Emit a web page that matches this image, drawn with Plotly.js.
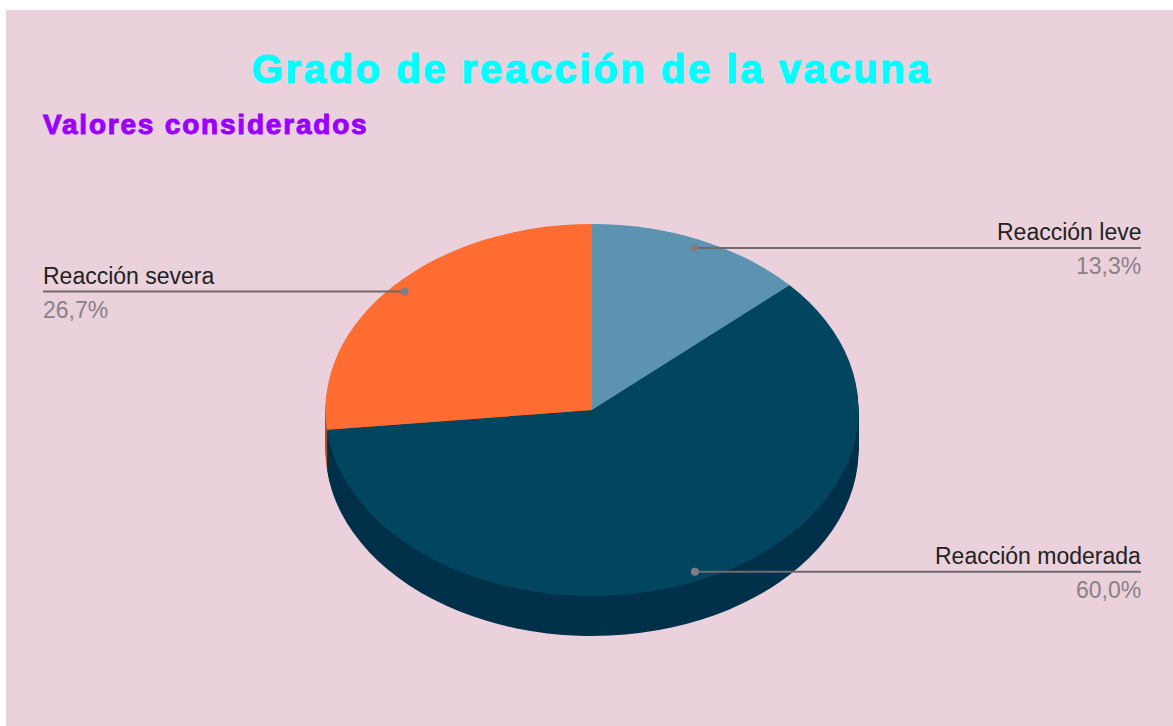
<!DOCTYPE html>
<html>
<head>
<meta charset="utf-8">
<script src="https://cdn.plot.ly/plotly-3.0.1.min.js"></script>
<style>
  html, body { margin: 0; padding: 0; background: #ffffff; }
  #chart { position: absolute; left: 6px; top: 10px; width: 1167px; height: 716px; }
</style>
</head>
<body>
<div id="chart"></div>
<script>
// ---- data ----
const categories = ["Reacción leve", "Reacción moderada", "Reacción severa"];
const percentValues = [13.3, 60.0, 26.7];
const topColors = ["#5b93b0", "#01455f", "#ff6d33"];
const sideColors = ["#3d6a80", "#00314a", "#b84b20"];
const chartTitle = "Grado de reacción de la vacuna";
const chartSubtitle = "Valores considerados";

// ---- geometry (pixels inside the plot div) ----
const W = 1167, H = 716;
const cx = 586, cy = 400;      // centre of top face
const A = 266.5, B = 186;      // ellipse half axes
const depth = 40;
const k = A / B;
const labelRight = 1135, labelLeft = 37;

function px(x) { return x / W; }
function py(y) { return 1 - y / H; }

function pieTrace(offset, colors) {
  return {
    type: "pie",
    labels: categories,
    values: percentValues,
    sort: false,
    direction: "clockwise",
    rotation: 0,
    textinfo: "none",
    hoverinfo: "none",
    showlegend: false,
    marker: { colors: colors, line: { width: 0 } },
    domain: {
      x: [px(cx - B), px(cx + B)],
      y: [py(cy + offset + B), py(cy + offset - B)]
    }
  };
}

const traces = [];
const steps = 20;
for (let i = steps; i >= 1; i--) {
  traces.push(pieTrace(depth * i / steps, sideColors));
}
traces.push(pieTrace(0, topColors));

// ---- labels & leader lines computed from the data ----
const total = percentValues.reduce((a, b) => a + b, 0);
const shapes = [];
const annotations = [];
let cum = 0;
percentValues.forEach((v, i) => {
  const mid = (cum + v / 2) / total;
  cum += v;
  const th = 2 * Math.PI * mid;
  const dx = cx + A * 0.945 * Math.sin(th);
  const dy = cy - B * 0.953 * Math.cos(th);
  const right = Math.sin(th) > 0;
  const ex = right ? labelRight : labelLeft;
  shapes.push({
    type: "line", xref: "paper", yref: "paper",
    x0: px(dx), y0: py(dy), x1: px(ex), y1: py(dy),
    line: { color: "#6e6a6d", width: 2 }
  });
  shapes.push({
    type: "circle", xref: "paper", yref: "paper",
    x0: px(dx - 4), x1: px(dx + 4), y0: py(dy + 4), y1: py(dy - 4),
    fillcolor: "#857b82", line: { width: 0 }
  });
  const pct = (v / total * 100).toFixed(1).replace(".", ",") + "%";
  const tx = right ? ex + 2 : ex - 2;
  annotations.push({
    xref: "paper", yref: "paper", x: px(tx), y: py(dy - 16),
    xanchor: right ? "right" : "left", yanchor: "middle",
    text: categories[i], showarrow: false,
    font: { family: "Liberation Sans, Arial, sans-serif", size: 23, color: "#222222" }
  });
  annotations.push({
    xref: "paper", yref: "paper", x: px(tx), y: py(dy + 18),
    xanchor: right ? "right" : "left", yanchor: "middle",
    text: pct, showarrow: false,
    font: { family: "Liberation Sans, Arial, sans-serif", size: 23, color: "#8a8088" }
  });
});

annotations.push({
  xref: "paper", yref: "paper", x: px(53), y: py(115),
  xanchor: "left", yanchor: "middle",
  text: chartSubtitle, showarrow: false,
  font: { family: "Liberation Sans, Arial, sans-serif", size: 28, color: "#9900ff", weight: "bold" }
});

const layout = {
  width: W, height: H,
  paper_bgcolor: "#ead1dc",
  plot_bgcolor: "#ead1dc",
  margin: { l: 0, r: 0, t: 0, b: 0, pad: 0 },
  showlegend: false,
  title: {
    text: chartTitle,
    x: px(586), xanchor: "center", xref: "paper",
    y: 1 - 59 / H, yanchor: "middle", yref: "container",
    font: { family: "Liberation Sans, Arial, sans-serif", size: 40, color: "#00ffff", weight: "bold" }
  },
  shapes: shapes,
  annotations: annotations
};

Plotly.newPlot("chart", traces, layout, { displayModeBar: false, staticPlot: true }).then(() => {
  const pl = document.querySelector("#chart .pielayer");
  if (pl) pl.setAttribute("transform", "translate(" + (cx * (1 - k)) + ",0) scale(" + k + ",1)");
  document.querySelectorAll("#chart .gtitle").forEach(t => {
    t.style.letterSpacing = "2.6px";
    t.style.stroke = "#00ffff";
    t.style.strokeWidth = "1.2px";
  });
  document.querySelectorAll("#chart .annotation-text").forEach(t => {
    if (t.textContent === chartSubtitle) {
      t.style.letterSpacing = "1.8px";
      t.style.stroke = "#9900ff";
      t.style.strokeWidth = "1px";
    }
  });
});
</script>
</body>
</html>
